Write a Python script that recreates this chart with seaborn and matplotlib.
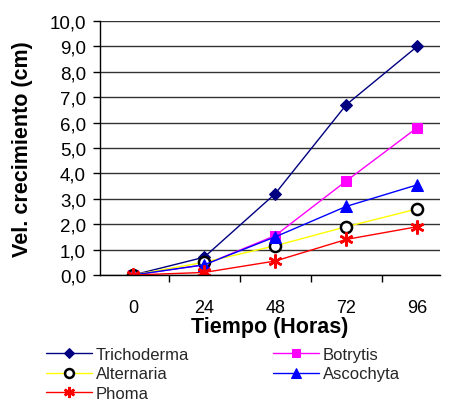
import matplotlib
matplotlib.use("Agg")
import matplotlib.pyplot as plt
from matplotlib.ticker import FuncFormatter, FixedLocator
import seaborn as sns
import pandas as pd

hours = [0, 24, 48, 72, 96]
trichoderma = [0.0, 0.7, 3.2, 6.7, 9.0]
botrytis = [0.0, 0.4, 1.55, 3.7, 5.8]
alternaria = [0.0, 0.5, 1.15, 1.9, 2.6]
ascochyta = [0.0, 0.4, 1.5, 2.7, 3.55]
phoma = [0.0, 0.1, 0.55, 1.4, 1.9]

series = [
    ("Trichoderma", trichoderma, dict(color="#000080", marker="D", markersize=6,
                                      markerfacecolor="#000080", markeredgecolor="#000080")),
    ("Botrytis", botrytis, dict(color="#FF00FF", marker="s", markersize=7,
                                markerfacecolor="#FF00FF", markeredgecolor="#FF00FF")),
    ("Alternaria", alternaria, dict(color="#FFFF00", marker="o", markersize=8,
                                    markerfacecolor="white", markeredgecolor="black",
                                    markeredgewidth=1.8)),
    ("Ascochyta", ascochyta, dict(color="#0000FF", marker="^", markersize=9,
                                  markerfacecolor="#0000FF", markeredgecolor="#0000FF")),
    ("Phoma", phoma, dict(color="#FF0000", marker=(6, 2, 0), markersize=10,
                          markeredgecolor="#FF0000", markeredgewidth=1.8)),
]

sns.set_theme(style="white")
plt.rcParams["font.family"] = ["Liberation Sans", "DejaVu Sans"]

fig = plt.figure(figsize=(4.49, 4.02), dpi=100)
ax = fig.add_axes([100 / 449, 1 - 276 / 402, 340 / 449, 254 / 402])

for name, vals, style in series:
    df = pd.DataFrame({"h": hours, "v": vals})
    sns.lineplot(data=df, x="h", y="v", ax=ax, linewidth=1.0, label=name, **style)

ax.set_xlim(-11.2, 103.7)
ax.set_ylim(0, 10)
ax.set_xticks(hours)
ax.xaxis.set_minor_locator(FixedLocator([12, 36, 60, 84]))
ax.set_yticks(range(0, 11))
ax.yaxis.set_major_formatter(FuncFormatter(lambda v, p: f"{v:.1f}".replace(".", ",")))
ax.grid(axis="y", color="#333333", linewidth=1.0)
ax.set_axisbelow(True)
for s in ["top", "right"]:
    ax.spines[s].set_visible(False)
for s in ["left", "bottom"]:
    ax.spines[s].set_color("black")
    ax.spines[s].set_linewidth(1.0)
ax.tick_params(axis="x", which="major", length=0, labelsize=13, pad=17, colors="black")
ax.tick_params(axis="x", which="minor", bottom=True, length=5, width=1, color="black", direction="out")
ax.tick_params(axis="y", left=True, length=5, width=1, labelsize=13.5, pad=5, colors="black", direction="out")
ax.set_xlabel("Tiempo (Horas)", fontsize=15.5, fontweight="bold", labelpad=0, color="black")
ax.set_ylabel("Vel. crecimiento (cm)", fontsize=15.5, fontweight="bold", labelpad=12, color="black")

h, l = ax.get_legend_handles_labels()
ax.get_legend().remove()
# row-wise reading order in a two-column legend
order = [0, 2, 4, 1, 3]
fig.legend([h[i] for i in order], [l[i] for i in order], loc="upper left",
           bbox_to_anchor=(46 / 449, 1 - 348 / 402), ncol=2,
           frameon=False, fontsize=12, handlelength=2.75, columnspacing=5.0,
           labelspacing=0.27, handletextpad=0.25, borderpad=0, borderaxespad=0,
           markerscale=0.8)

fig.savefig("out.png", dpi=100)
